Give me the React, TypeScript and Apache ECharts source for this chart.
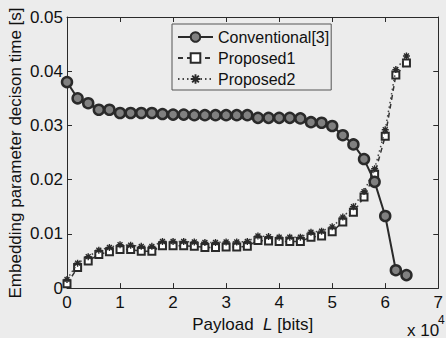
import React, { useEffect, useRef } from "react";
import * as echarts from "echarts";

// Payload in units of x10^4 bits
const payload = [0, 0.2, 0.4, 0.6, 0.8, 1.0, 1.2, 1.4, 1.6, 1.8, 2.0, 2.2, 2.4, 2.6, 2.8, 3.0, 3.2, 3.4, 3.6, 3.8, 4.0, 4.2, 4.4, 4.6, 4.8, 5.0, 5.2, 5.4, 5.6, 5.8, 6.0, 6.2, 6.4];

const conventional = [0.038, 0.035, 0.0341, 0.0329, 0.0329, 0.0323, 0.0323, 0.0323, 0.0323, 0.0321, 0.032, 0.032, 0.0319, 0.0319, 0.0319, 0.0319, 0.0319, 0.0319, 0.0314, 0.0314, 0.0314, 0.0314, 0.0313, 0.0306, 0.0305, 0.0299, 0.0282, 0.0265, 0.0238, 0.0196, 0.0133, 0.0033, 0.0024];

const proposed1 = [0.0008, 0.0038, 0.005, 0.0062, 0.0067, 0.0071, 0.0071, 0.0068, 0.0068, 0.0078, 0.0078, 0.0078, 0.0077, 0.0075, 0.0075, 0.0076, 0.0076, 0.0077, 0.0088, 0.0087, 0.0086, 0.0086, 0.0086, 0.0094, 0.0096, 0.0104, 0.0122, 0.014, 0.0168, 0.021, 0.028, 0.0393, 0.0415];

const proposed2 = [0.0016, 0.0046, 0.0058, 0.007, 0.0075, 0.008, 0.0079, 0.0077, 0.0077, 0.0086, 0.0086, 0.0086, 0.0085, 0.0084, 0.0084, 0.0085, 0.0085, 0.0086, 0.0096, 0.0095, 0.0094, 0.0094, 0.0094, 0.0103, 0.0105, 0.0113, 0.0131, 0.015, 0.0178, 0.022, 0.0292, 0.0403, 0.0428];

const seriesNames = ["Conventional[3]", "Proposed1", "Proposed2"];

const FONT = "'Liberation Sans', Arial, Helvetica, sans-serif";
const INK = "#2a2a2a";
const TXT = "#111";

const asterisk =
  "path://M-1,-5 L1,-5 L1,5 L-1,5 Z M-5,-1 L5,-1 L5,1 L-5,1 Z M-2.8,-4.2 L4.2,2.8 L2.8,4.2 L-4.2,-2.8 Z M-4.2,2.8 L2.8,-4.2 L4.2,-2.8 L-2.8,4.2 Z";

export default function App() {
  const ref = useRef<HTMLDivElement>(null);
  useEffect(() => {
    document.body.style.margin = "0";
    const chart = echarts.init(ref.current!, null, { renderer: "svg" });
    const pair = (ys: number[]) => payload.map((x, i) => [x, ys[i]]);
    const axisCommon = {
      min: 0,
      axisLine: { show: true, onZero: false, lineStyle: { color: INK, width: 1 } },
      axisTick: { show: true, inside: true, length: 5, lineStyle: { color: INK } },
      splitLine: { show: false },
    };
    chart.setOption({
      animation: false,
      backgroundColor: "#ececec",
      textStyle: { fontFamily: FONT },
      grid: { left: 67, right: 1, top: 17, bottom: 48, containLabel: false },
      legend: {
        orient: "vertical",
        left: 172,
        top: 24,
        data: seriesNames,
        itemWidth: 35,
        itemHeight: 12,
        itemGap: 5,
        padding: [5, 2, 3, 5],
        borderColor: "#555",
        borderWidth: 1,
        backgroundColor: "#ececec",
        textStyle: { fontFamily: FONT, fontSize: 16, color: TXT },
      },
      xAxis: [
        {
          ...axisCommon,
          type: "value",
          max: 7,
          interval: 1,
          position: "bottom",
          axisLabel: { fontSize: 17, color: TXT, margin: 6, fontFamily: FONT },
          name: "Payload  {i|L} [bits]",
          nameLocation: "middle",
          nameGap: 22,
          nameTextStyle: {
            fontSize: 17,
            color: TXT,
            fontFamily: FONT,
            rich: { i: { fontStyle: "italic", fontSize: 17, fontFamily: FONT, color: TXT } },
          },
        },
        {
          ...axisCommon,
          type: "value",
          max: 7,
          interval: 1,
          position: "top",
          axisLabel: { show: false },
        },
      ],
      yAxis: [
        {
          ...axisCommon,
          type: "value",
          max: 0.05,
          interval: 0.01,
          position: "left",
          axisLabel: {
            fontSize: 17,
            color: TXT,
            margin: 4,
            fontFamily: FONT,
            formatter: (v: number) => (v === 0 ? "0" : v.toFixed(2)),
          },
        },
        {
          ...axisCommon,
          type: "value",
          max: 0.05,
          interval: 0.01,
          position: "right",
          axisLabel: { show: false },
        },
      ],
      graphic: [
        {
          type: "text",
          x: 15,
          y: 153,
          rotation: Math.PI / 2,
          style: {
            text: "Embedding parameter decison time [s]",
            fontSize: 17,
            fontFamily: FONT,
            fill: TXT,
            textAlign: "center",
            textVerticalAlign: "middle",
          },
        },
        {
          type: "text",
          x: 407,
          y: 330,
          style: {
            text: "x 10",
            fontSize: 17,
            fontFamily: FONT,
            fill: TXT,
            textAlign: "left",
            textVerticalAlign: "middle",
          },
        },
        {
          type: "text",
          x: 438,
          y: 320,
          style: {
            text: "4",
            fontSize: 12,
            fontFamily: FONT,
            fill: TXT,
            textAlign: "left",
            textVerticalAlign: "middle",
          },
        },
      ],
      series: [
        {
          name: seriesNames[1],
          type: "line",
          data: pair(proposed1),
          symbol: "emptyRect",
          symbolSize: 7,
          lineStyle: { color: "#333", width: 1.5, type: [5, 4] },
          itemStyle: { color: "#2a2a2a", borderColor: "#2a2a2a", borderWidth: 2 },
          z: 2,
        },
        {
          name: seriesNames[2],
          type: "line",
          data: pair(proposed2),
          symbol: asterisk,
          symbolSize: 7,
          lineStyle: { color: "#444", width: 1.5, type: [1.5, 3] },
          itemStyle: { color: "#2a2a2a", borderWidth: 0 },
          z: 3,
        },
        {
          name: seriesNames[0],
          type: "line",
          data: pair(conventional),
          symbol: "circle",
          symbolSize: 10,
          lineStyle: { color: "#2a2a2a", width: 2 },
          itemStyle: { color: "#808080", borderColor: "#2a2a2a", borderWidth: 2.5 },
          z: 4,
        },
      ],
    });
    return () => chart.dispose();
  }, []);
  return (
    <div
      ref={ref}
      style={{ position: "absolute", left: 0, top: 0, width: 446, height: 338 }}
    />
  );
}
